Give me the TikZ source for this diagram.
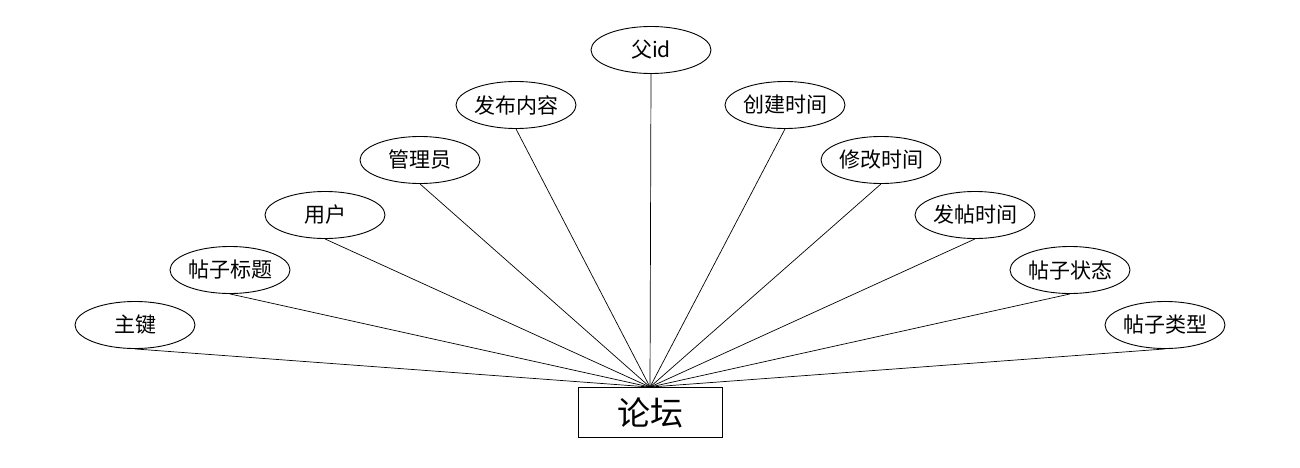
\documentclass[tikz,border=0pt]{standalone}
\usepackage{fontspec}
\setmainfont{Noto Sans CJK SC}
\usetikzlibrary{shapes.geometric}
\begin{document}
\begin{tikzpicture}[x=1pt,y=-1pt,
  attr/.style={draw,ellipse,line width=0.9pt,minimum width=120pt,minimum height=47pt,inner sep=0pt,font=\fontsize{21}{21}\selectfont},
  ent/.style={draw,rectangle,line width=0.9pt,minimum width=144pt,minimum height=50pt,inner sep=0pt,font=\fontsize{33}{33}\selectfont},
  link/.style={line width=0.7pt}]
\useasboundingbox[fill=white] (0,0) rectangle (1300,468);
\node[ent] (e) at (650,412.5) {论坛};
\node[attr] (a1) at (135,325) {主键};
\node[attr] (a2) at (230,270) {帖子标题};
\node[attr] (a3) at (325,215) {用户};
\node[attr] (a4) at (420,160) {管理员};
\node[attr] (a5) at (516,105) {发布内容};
\node[attr] (a6) at (651,50) {父id};
\node[attr] (a7) at (785,105) {创建时间};
\node[attr] (a8) at (881,160) {修改时间};
\node[attr] (a9) at (975,215) {发帖时间};
\node[attr] (a10) at (1070,270) {帖子状态};
\node[attr] (a11) at (1165,325) {帖子类型};
\foreach \i in {1,...,11} \draw[link] (a\i.south) -- (e.north);
\end{tikzpicture}
\end{document}
